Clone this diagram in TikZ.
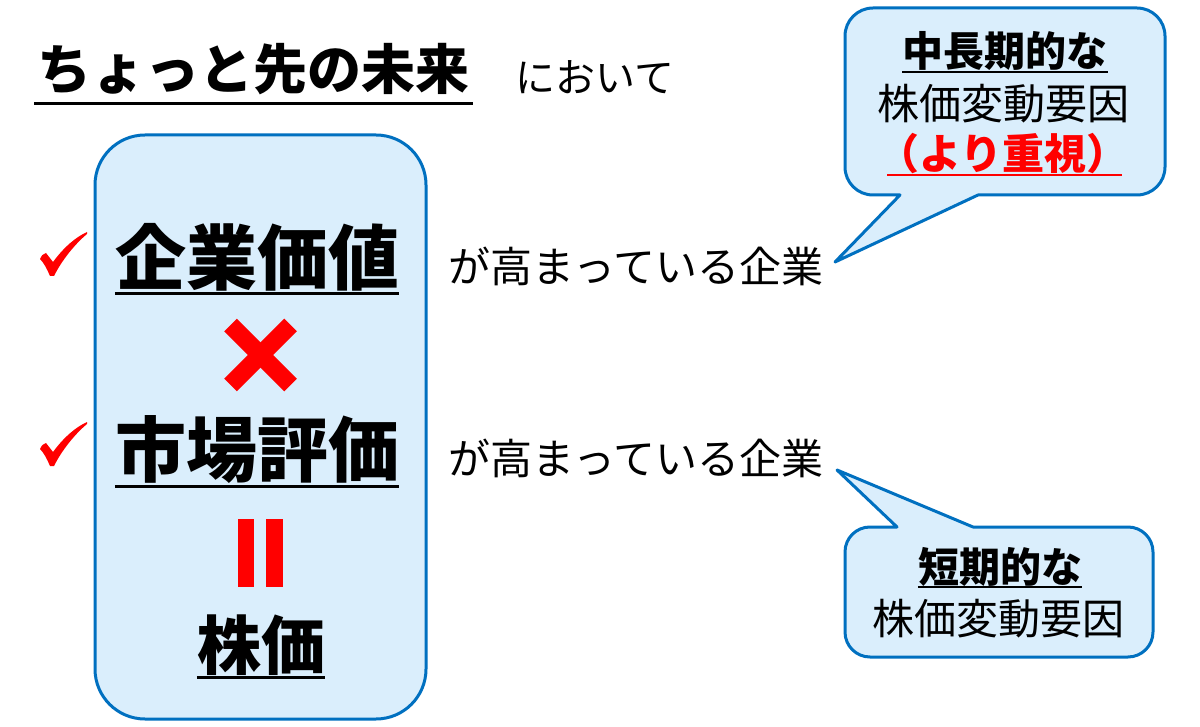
\documentclass[tikz,border=0pt]{standalone}
\usepackage{fontspec}
\newfontfamily\jp{Noto Sans CJK JP}
\definecolor{boxfill}{RGB}{218,238,252}
\definecolor{boxline}{RGB}{0,112,192}
\definecolor{myred}{RGB}{255,0,0}
\tikzset{
  txt/.style={inner sep=0pt, anchor=base},
  fs/.style={font=\jp\fontsize{#1}{#1}\selectfont},
  bfs/.style={font=\jp\bfseries\fontsize{#1}{#1}\selectfont},
  uline/.style={draw=black, line width=3pt},
  callout/.style={draw=boxline, fill=boxfill, line width=3pt, line join=round},
  chk/.pic={
    \fill[myred] (0,27) .. controls (2,23) .. (6,21) -- (13,30)
      .. controls (24,15) and (36,5) .. (47,0) -- (47,2)
      .. controls (35,12) and (22,28) .. (14,44) -- (10,44)
      .. controls (7,37) and (4,31) .. (0,27) -- cycle;
  }
}
\begin{document}
\begin{tikzpicture}[x=1pt,y=-1pt]
\useasboundingbox (0,0) rectangle (1200,727);
\fill[white] (0,0) rectangle (1200,727);

% title
\node[txt,bfs=54] (title) at (253.5,89.5) {ちょっと先の未来};
\draw[uline] ([xshift=-3pt,yshift=-14.5pt]title.base west) -- ([xshift=3pt,yshift=-14.5pt]title.base east);
\node[txt,fs=40] (niokite) at (595,92.5) {において};

% big box
\node[draw=boxline, fill=boxfill, line width=3pt, rounded corners=50pt,
      minimum width=331pt, minimum height=584pt, inner sep=0pt] (bigbox) at (260.5,427) {};

\node[txt,bfs=71] (kigyo) at (257,284.5) {企業価値};
\draw[uline] ([yshift=-9.5pt]kigyo.base west) -- ([yshift=-9.5pt]kigyo.base east);

\draw[myred, line width=18pt] (230.5,325) -- (290.5,385);
\draw[myred, line width=18pt] (230.5,385) -- (290.5,325);

\node[txt,bfs=71] (shijo) at (257,476) {市場評価};
\draw[uline] ([yshift=-10pt]shijo.base west) -- ([yshift=-10pt]shijo.base east);

\fill[myred] (238,519) rectangle (254,587);
\fill[myred] (266,519) rectangle (283,587);

\node[txt,bfs=64] (kabuka) at (261,669) {株価};
\draw[uline] ([yshift=-8pt]kabuka.base west) -- ([yshift=-8pt]kabuka.base east);

% check marks
\pic at (40,232) {chk};
\pic at (40,422) {chk};

% right texts
\node[txt,fs=42] (ga1) at (636,282.5) {が高まっている企業};
\node[txt,fs=42] (ga2) at (636,474.5) {が高まっている企業};

\coordinate (tip1) at (835,262);
\coordinate (tip2) at (837,470);

% top callout
\path[callout] (873,8) -- (1137,8) arc[start angle=-90,end angle=0,radius=28]
  -- (1165,167) arc[start angle=0,end angle=90,radius=28]
  -- (978,195) -- (tip1) -- (900,195) -- (873,195)
  arc[start angle=90,end angle=180,radius=28]
  -- (845,36) arc[start angle=180,end angle=270,radius=28] -- cycle;

\node[txt,bfs=41] (c1a) at (1005,67) {中長期的な};
\draw[uline,line width=2.5pt] ([yshift=-5pt]c1a.base west) -- ([yshift=-5pt]c1a.base east);
\node[txt,fs=42] (c1b) at (1003,119.5) {株価変動要因};
\node[txt,bfs=42,text=myred] (c1c) at (1003,169.5) {（より重視）};
\draw[draw=myred, line width=2pt] ([xshift=10pt,yshift=-5.5pt]c1c.base west) -- ([xshift=-7pt,yshift=-5.5pt]c1c.base east);

% bottom callout
\path[callout] (870,527) -- (897,527) -- (tip2) -- (973,527) -- (1128,527)
  arc[start angle=-90,end angle=0,radius=25]
  -- (1153,632) arc[start angle=0,end angle=90,radius=25]
  -- (870,657) arc[start angle=90,end angle=180,radius=25]
  -- (845,552) arc[start angle=180,end angle=270,radius=25] -- cycle;

\node[txt,bfs=41] (c2a) at (1000,582.5) {短期的な};
\draw[uline,line width=2.5pt] ([yshift=-4.5pt]c2a.base west) -- ([yshift=-4.5pt]c2a.base east);
\node[txt,fs=42] (c2b) at (998.5,634.5) {株価変動要因};
\end{tikzpicture}
\end{document}
